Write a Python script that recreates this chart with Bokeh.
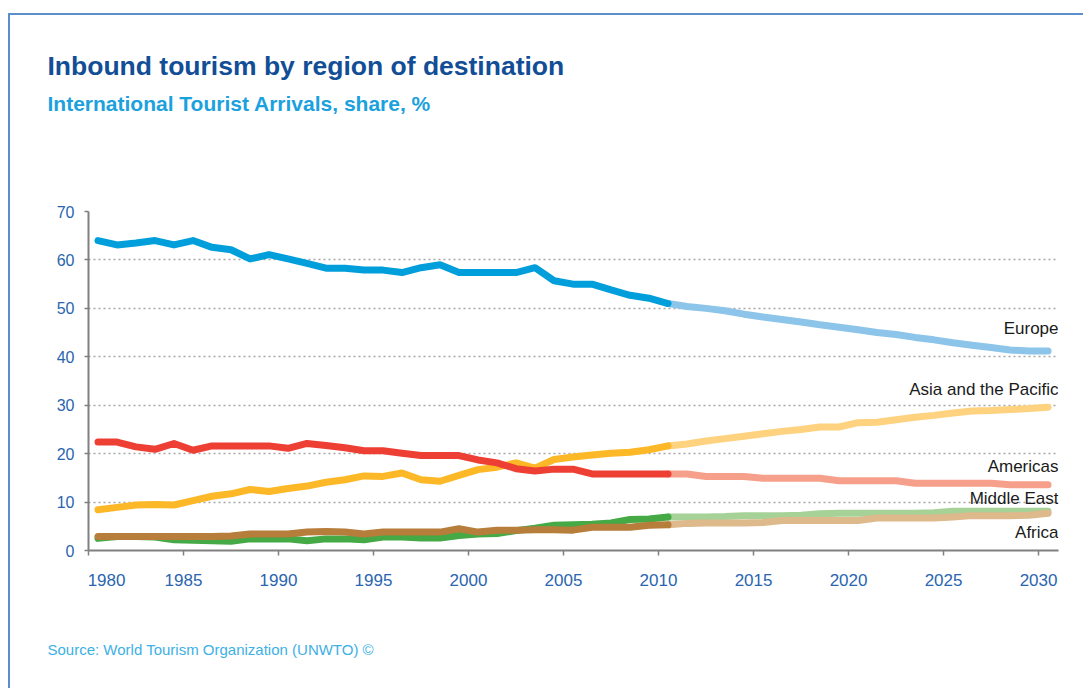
from bokeh.plotting import figure
from bokeh.models import Label, FixedTicker, Range1d, Title
from bokeh.embed import file_html
from bokeh.resources import INLINE

# ---------------- data ----------------
years = list(range(1980, 2031))
split_year = 2010  # actual data up to 2010, forecast after

europe = [64.0, 63.1, 63.5, 64.0, 63.1, 64.0, 62.6, 62.1, 60.2, 61.1,
          60.2, 59.3, 58.3, 58.3, 57.9, 57.9, 57.4, 58.4, 59.0, 57.4,
          57.4, 57.4, 57.4, 58.4, 55.7, 55.0, 55.0, 53.8, 52.7, 52.1,
          51.0, 50.4, 50.0, 49.5, 48.8, 48.2, 47.7, 47.2, 46.6, 46.1,
          45.6, 45.0, 44.6, 44.0, 43.5, 42.9, 42.4, 41.9, 41.4, 41.2,
          41.2]
asia_pacific = [8.4, 8.9, 9.4, 9.5, 9.4, 10.3, 11.2, 11.7, 12.6, 12.2,
                12.8, 13.3, 14.1, 14.6, 15.4, 15.3, 16.0, 14.6, 14.3, 15.5,
                16.7, 17.2, 18.1, 17.0, 18.8, 19.3, 19.7, 20.1, 20.3, 20.8,
                21.6, 22.0, 22.6, 23.1, 23.6, 24.1, 24.6, 25.0, 25.5, 25.5,
                26.4, 26.5, 27.0, 27.5, 27.9, 28.4, 28.8, 28.9, 29.1, 29.3,
                29.6]
americas = [22.4, 22.4, 21.4, 20.9, 22.1, 20.7, 21.6, 21.6, 21.6, 21.6,
            21.1, 22.1, 21.7, 21.2, 20.6, 20.6, 20.1, 19.6, 19.6, 19.6,
            18.7, 18.1, 16.9, 16.4, 16.8, 16.8, 15.8, 15.8, 15.8, 15.8,
            15.8, 15.8, 15.3, 15.3, 15.3, 14.9, 14.9, 14.9, 14.9, 14.4,
            14.4, 14.4, 14.4, 13.9, 13.9, 13.9, 13.9, 13.9, 13.6, 13.6,
            13.6]
middle_east = [2.5, 2.9, 2.9, 2.8, 2.2, 2.1, 2.0, 1.9, 2.4, 2.4,
               2.4, 2.0, 2.4, 2.4, 2.2, 2.8, 2.8, 2.6, 2.6, 3.1,
               3.4, 3.5, 4.1, 4.6, 5.2, 5.3, 5.4, 5.7, 6.4, 6.5,
               6.9, 6.9, 6.9, 7.0, 7.2, 7.2, 7.2, 7.3, 7.6, 7.7,
               7.7, 7.7, 7.7, 7.7, 7.8, 8.1, 8.1, 8.1, 8.1, 8.1,
               8.1]
africa = [2.9, 2.9, 2.9, 2.9, 2.9, 2.9, 2.9, 3.0, 3.4, 3.4,
          3.4, 3.8, 3.9, 3.8, 3.4, 3.8, 3.8, 3.8, 3.8, 4.5,
          3.8, 4.2, 4.2, 4.3, 4.3, 4.2, 4.8, 4.8, 4.8, 5.2,
          5.3, 5.6, 5.7, 5.7, 5.7, 5.8, 6.2, 6.2, 6.2, 6.2,
          6.2, 6.7, 6.7, 6.7, 6.7, 6.9, 7.2, 7.2, 7.2, 7.3,
          7.7]

region_names = ["Europe", "Asia and the Pacific", "Americas", "Middle East", "Africa"]
label_y = [45.9, 33.2, 17.4, 10.7, 3.7]

y_ticks = [0, 10, 20, 30, 40, 50, 60, 70]
x_tick_years = [1980, 1985, 1990, 1995, 2000, 2005, 2010, 2015, 2020, 2025, 2030]

title_text = "Inbound tourism by region of destination"
subtitle_text = "International Tourist Arrivals, share, %"
source_text = "Source: World Tourism Organization (UNWTO) \u00a9"

# ---------------- styles / layout ----------------
FONT = "Liberation Sans"
series = [
    ("Middle East", middle_east, "#45A945", "#A6D298"),
    ("Asia and the Pacific", asia_pacific, "#FDB827", "#FED27F"),
    ("Americas", americas, "#EE3F34", "#F6A08B"),
    ("Europe", europe, "#009EDB", "#8CC4EA"),
    ("Africa", africa, "#B67D3B", "#DDB98C"),
]

x_lo, x_hi = 1979.5, 2030.55
y_lo, y_hi = 0, 70
W, H = 1075, 675
B_LEFT, B_RIGHT, B_TOP, B_BOTTOM = 78, 27, 196, 140

p = figure(width=W, height=H,
           x_range=Range1d(x_lo, x_hi), y_range=Range1d(y_lo, y_hi),
           output_backend="svg", toolbar_location=None,
           title_location=None,
           min_border_left=B_LEFT, min_border_right=B_RIGHT,
           min_border_top=B_TOP, min_border_bottom=B_BOTTOM)
p.styles = {"border-top": "2px solid #5A8FCB",
            "border-left": "2px solid #5A8FCB",
            "margin-top": "13px",
            "margin-left": "8px"}
p.outline_line_color = None
p.background_fill_color = "white"
p.border_fill_color = "white"

for name, vals, dark, light in series:
    hx = [y for y in years if y <= split_year]
    hy = [v for y, v in zip(years, vals) if y <= split_year]
    fx = [y for y in years if y >= split_year]
    fy = [v for y, v in zip(years, vals) if y >= split_year]
    p.line(fx, fy, line_color=light, line_width=7, line_join="round", line_cap="round")
    p.line(hx, hy, line_color=dark, line_width=7, line_join="round", line_cap="round")

# grid
p.xgrid.visible = False
p.ygrid.ticker = FixedTicker(ticks=y_ticks)
p.ygrid.grid_line_color = "#A6A6A6"
p.ygrid.grid_line_dash = "2 3"
p.ygrid.grid_line_width = 1.5

# y axis
ya = p.yaxis[0]
ya.ticker = FixedTicker(ticks=y_ticks)
ya.axis_line_color = "#808080"
ya.axis_line_width = 2
ya.major_tick_line_color = "#808080"
ya.major_tick_line_width = 1.5
ya.major_tick_out = 4
ya.major_tick_in = 0
ya.minor_tick_line_color = None
ya.major_label_text_font = FONT
ya.major_label_text_font_size = "16px"
ya.major_label_text_color = "#2A65B0"
ya.major_label_standoff = 10

# x axis: tick marks half a year before each labelled year
xa = p.xaxis[0]
mark_pos = [y - 0.5 for y in x_tick_years]
label_pos = [y - 0.5 for y in x_tick_years]
label_pos[0] = x_tick_years[0] + 0.45
xa.ticker = FixedTicker(ticks=label_pos, minor_ticks=mark_pos)
xa.major_label_overrides = {pos: str(y) for pos, y in zip(label_pos, x_tick_years)}
xa.axis_line_color = "#808080"
xa.axis_line_width = 2
xa.major_tick_out = 0
xa.major_tick_in = 0
xa.major_tick_line_color = None
xa.minor_tick_line_color = "#808080"
xa.minor_tick_line_width = 1.5
xa.minor_tick_out = 5
xa.minor_tick_in = 0
xa.major_label_text_font = FONT
xa.major_label_text_font_size = "17px"
xa.major_label_text_color = "#2A65B0"
xa.major_label_standoff = 18
# invisible axis label used only as vertical spacing before the source note
xa.axis_label = " "
xa.axis_label_text_font_size = "1px"
xa.axis_label_standoff = 46

# region labels at the right end
for name, ly in zip(region_names, label_y):
    p.add_layout(Label(x=x_hi, y=ly, text=name, text_align="right",
                       text_baseline="middle", text_font=FONT,
                       text_font_size="17px", text_color="#1A1A1A"))

# titles: stacked outward from the frame -> spacer, subtitle, title
p.add_layout(Title(text=" ", text_font_size="1px", standoff=94), "above")
p.add_layout(Title(text=subtitle_text, align="left", offset=-41, standoff=0,
                   text_font=FONT, text_font_style="bold",
                   text_font_size="21px", text_color="#1BA1DE"), "above")
p.add_layout(Title(text=title_text, align="left", offset=-41, standoff=18,
                   text_font=FONT, text_font_style="bold",
                   text_font_size="26.5px", text_color="#124E96"), "above")

# source note below the axis
p.add_layout(Title(text=source_text, align="left", offset=-41, standoff=0,
                   text_font=FONT, text_font_style="normal",
                   text_font_size="15px", text_color="#3DB0E6"), "below")

open("out.html", "w").write(file_html(p, INLINE))
